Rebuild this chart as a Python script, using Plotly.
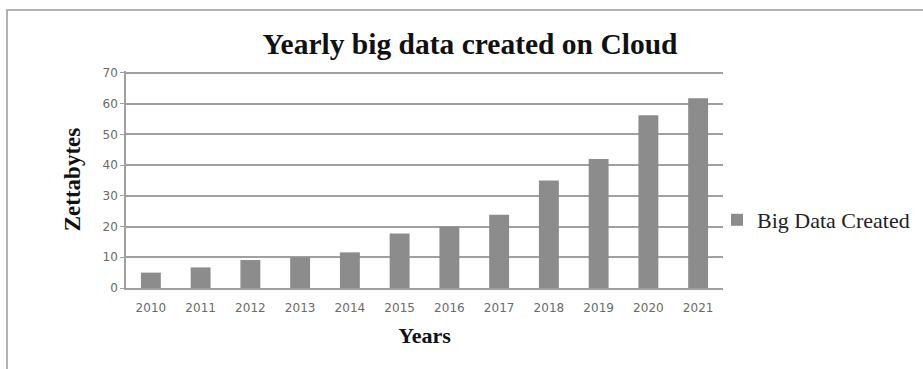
import plotly.graph_objects as go

years = ["2010", "2011", "2012", "2013", "2014", "2015", "2016", "2017", "2018", "2019", "2020", "2021"]
values = [5, 6.7, 9.1, 10, 11.6, 17.7, 20, 23.8, 35, 42, 56.2, 61.7]
series_name = "Big Data Created"
y_ticks = [0, 10, 20, 30, 40, 50, 60, 70]

W, H = 923, 369
L, R, T, B = 126, 200, 71, 81
pw, ph = W - L - R, H - T - B

def px_to_paper_x(px):
    return (px - L) / pw

def px_to_paper_y(py):
    return (H - B - py) / ph

fig = go.Figure()
fig.add_trace(go.Bar(x=years, y=values, name=series_name, marker=dict(color="#8c8c8c", line=dict(width=0))))

serif = "Liberation Serif"
fig.update_layout(
    width=W, height=H,
    margin=dict(l=L, r=R, t=T, b=B, autoexpand=False),
    paper_bgcolor="white", plot_bgcolor="white",
    bargap=0.6,
    showlegend=True,
    title=dict(text="<b>Yearly big data created on Cloud</b>", font=dict(family=serif, size=29.5, color="#111"),
               xref="container", x=470 / W, xanchor="center",
               yref="container", y=1 - 44 / H, yanchor="middle"),
    legend=dict(xref="paper", yref="paper", x=px_to_paper_x(717), xanchor="left",
                y=px_to_paper_y(220), yanchor="middle",
                font=dict(family=serif, size=22, color="#222"), bgcolor="rgba(0,0,0,0)",
                itemwidth=30),
    xaxis=dict(
        type="category", showgrid=False, showline=True, linecolor="#a0a0a0", linewidth=1.5,
        ticks="outside", ticklen=8, tickcolor="rgba(0,0,0,0)",
        tickfont=dict(family="DejaVu Sans", size=12, color="#6a6a6a"),
        title=dict(text="<b>Years</b>", font=dict(family=serif, size=22, color="#111"), standoff=13),
    ),
    yaxis=dict(
        range=[0, 70.6], tickvals=y_ticks, ticksuffix="  ", showgrid=True, gridcolor="#a0a0a0", gridwidth=1.5,
        showline=True, linecolor="#a0a0a0", linewidth=1.5, ticks="outside", ticklen=4, tickcolor="#a0a0a0",
        tickfont=dict(family="DejaVu Sans", size=12, color="#6a6a6a"), zeroline=False,
        title=dict(text="<b>Zettabytes</b>", font=dict(family=serif, size=23, color="#111"), standoff=16),
    ),
)

fig.add_shape(type="rect", xref="paper", yref="paper",
              x0=px_to_paper_x(7), x1=px_to_paper_x(940),
              y0=px_to_paper_y(400), y1=px_to_paper_y(10),
              line=dict(color="#999", width=1.5), fillcolor="rgba(0,0,0,0)", layer="below")

fig.write_html("out.html")
